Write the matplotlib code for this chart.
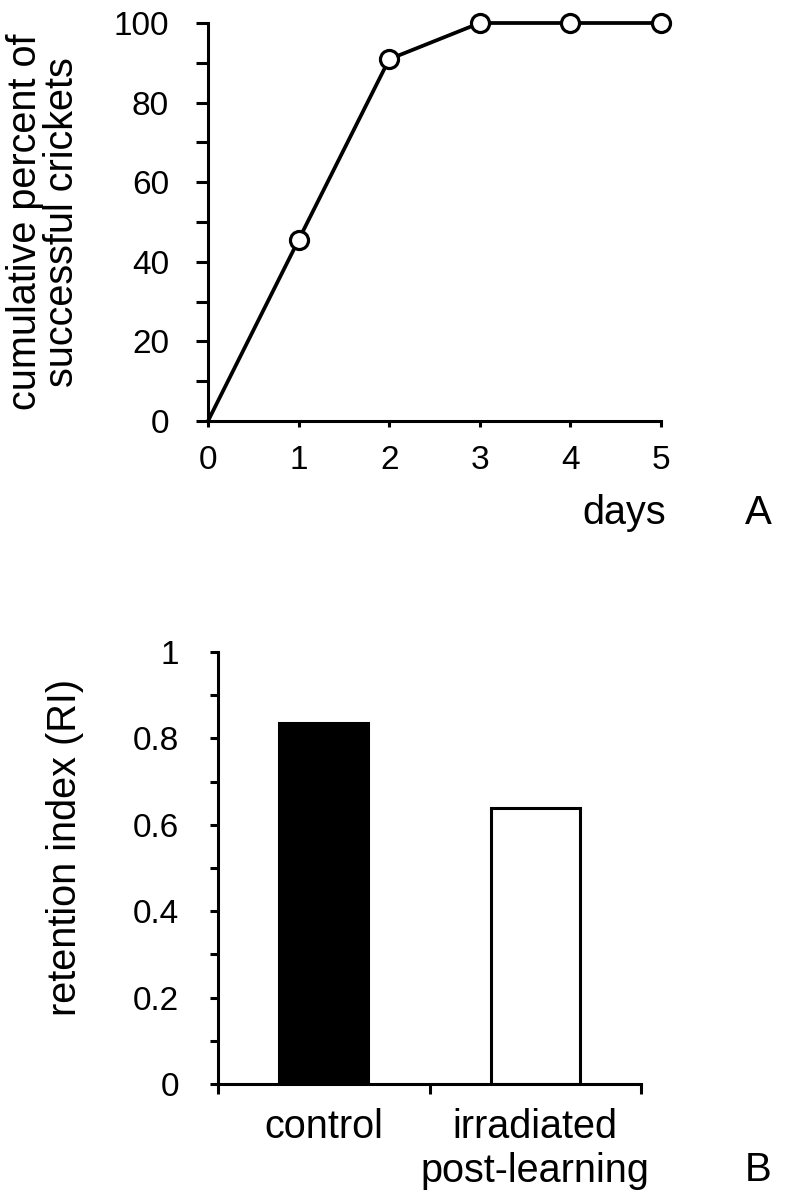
import matplotlib
matplotlib.use("Agg")
import matplotlib.pyplot as plt
import numpy as np

plt.rcParams['font.family'] = ['Liberation Sans', 'DejaVu Sans']

# panel A: cumulative percent of successful crickets per day
days = [0, 1, 2, 3, 4, 5]
cum_percent = [0, 45.5, 90.9, 100, 100, 100]

# panel B: retention index
groups = ['control', 'irradiated\npost-learning']
retention = [0.836, 0.639]
bar_colors = ['black', 'white']

W, H = 785, 1199
fig = plt.figure(figsize=(W / 100, H / 100), dpi=100)


def px_axes(left, right, top, bottom):
    return fig.add_axes([left / W, 1 - bottom / H, (right - left) / W, (bottom - top) / H])


LW = 2.2

# ---- panel A ----
ax1 = px_axes(208, 661, 23, 421)
ax1.plot(days, cum_percent, color='black', lw=2.7, zorder=2, clip_on=False)
ax1.plot(days[1:], cum_percent[1:], 'o', ms=13, mfc='white', mec='black', mew=2.3,
         zorder=3, clip_on=False)
ax1.set_xlim(0, 5)
ax1.set_ylim(0, 100)
ax1.set_xticks(days)
ax1.set_yticks(np.arange(0, 101, 20))
ax1.set_yticks(np.arange(10, 100, 20), minor=True)
ax1.tick_params(axis='y', which='both', direction='out', length=9, width=LW,
                labelsize=24, pad=19)
ax1.tick_params(axis='x', direction='out', length=4, width=LW, labelsize=24, pad=13)
for s in ['top', 'right']:
    ax1.spines[s].set_visible(False)
for s in ['left', 'bottom']:
    ax1.spines[s].set_linewidth(LW)

# two-line y label, drawn line by line to keep the tight spacing
fig.text(36 / W, 1 - 222 / H, 'cumulative percent of', rotation=90, rotation_mode='anchor',
         ha='center', va='baseline', fontsize=28.5)
fig.text(73 / W, 1 - 222 / H, 'successful crickets', rotation=90, rotation_mode='anchor',
         ha='center', va='baseline', fontsize=28.5)
fig.text(624 / W, 1 - 513 / H, 'days', ha='center', va='center', fontsize=28.5)
fig.text(758 / W, 1 - 513 / H, 'A', ha='center', va='center', fontsize=29)

# ---- panel B ----
ax2 = px_axes(218, 641, 652, 1084)
xpos = np.arange(len(groups)) + 0.5
ax2.bar(xpos, retention, width=0.42, color=bar_colors, edgecolor='black', linewidth=2.2)
ax2.set_xlim(0, 2)
ax2.set_ylim(0, 1)
ax2.set_xticks([0, 1, 2])
ax2.set_xticklabels([])
ax2.set_xticks(xpos, minor=True)
ax2.set_xticklabels(groups, minor=True, fontsize=28.5)
ax2.tick_params(axis='x', which='major', direction='out', length=7, width=LW)
ax2.tick_params(axis='x', which='minor', length=0, pad=17)
ax2.set_yticks(np.arange(0, 1.01, 0.2))
ax2.set_yticklabels(['0', '0.2', '0.4', '0.6', '0.8', '1'])
ax2.set_yticks(np.arange(0.1, 1.0, 0.2), minor=True)
ax2.tick_params(axis='y', which='both', direction='out', length=6, width=LW,
                labelsize=24, pad=22)
for s in ['top', 'right']:
    ax2.spines[s].set_visible(False)
for s in ['left', 'bottom']:
    ax2.spines[s].set_linewidth(LW)

fig.text(76 / W, 1 - 847 / H, 'retention index (RI)', rotation=90, rotation_mode='anchor',
         ha='center', va='baseline', fontsize=28.5)
fig.text(758 / W, 1 - 1170 / H, 'B', ha='center', va='center', fontsize=29)

fig.savefig('out.png', dpi=100)
